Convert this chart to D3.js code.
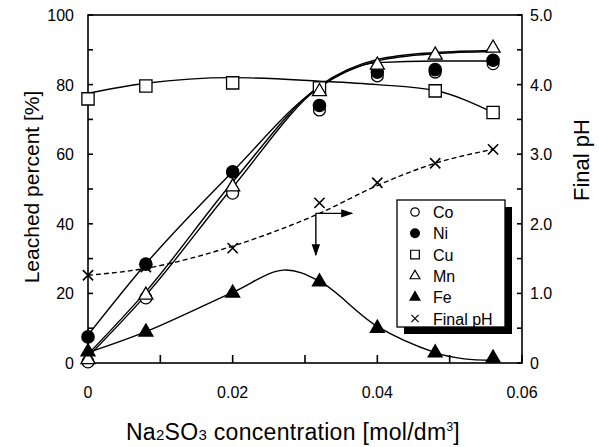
<!DOCTYPE html>
<html><head><meta charset="utf-8">
<script src="https://cdn.jsdelivr.net/npm/d3@7"></script>
<style>body{margin:0;background:#fff}svg{font-family:"Liberation Sans",Arial,sans-serif}</style>
</head><body>
<svg id="c" width="599" height="447"></svg>
<script>
// ---- data ----
const conc = [0, 0.008, 0.02, 0.032, 0.04, 0.048, 0.056];
const coVals = [0.3, 18.7, 48.8, 72.7, 82.5, 83.6, 86];
const niVals = [7.5, 28.4, 54.9, 74, 83.6, 84.3, 87];
const cuVals = [75.9, 79.6, 80.5, 79, null, 78.2, 72];
const mnVals = [1.0, 19.5, 50.6, 78, 85.6, 88.5, 90.5];
const feVals = [3.2, 8.9, 20.1, 23.3, 10, 2.9, 1.4];
const phVals = [1.26, 1.38, 1.65, 2.30, 2.59, 2.87, 3.07];
// fitted curves as drawn in the figure
const coFit = [1.8, 19.5, 50.5, 79.3, 86.8, 88.9, 89.5];
const niFit = [8, 28.5, 55, 79.3, 86.3, 86.8, 86.8];
const mnFit = [2.5, 20.5, 52, 79.6, 87.2, 89.2, 89.8];
const cuFit = [77.5, 80.4, 82, 81, 80, 78.3, 72];
const phFit = [1.26, 1.36, 1.68, 2.15, 2.55, 2.87, 3.07];
const feFitX = [0, 0.008, 0.02, 0.027, 0.032, 0.04, 0.048, 0.052, 0.056];
const feFit = [3, 9, 20.3, 26.7, 23.5, 10.5, 3, 1.2, 0.8];
const xTicks = [0, 0.02, 0.04, 0.06];
const xTickLabels = ["0", "0.02", "0.04", "0.06"];
const yLTicks = [0, 20, 40, 60, 80, 100];
const yRTicks = [0, 1, 2, 3, 4, 5];
const yRTickLabels = ["0", "1.0", "2.0", "3.0", "4.0", "5.0"];
const legendItems = ["Co", "Ni", "Cu", "Mn", "Fe", "Final pH"];
const arrowAt = {x: 0.0315, ph: 2.15, xEnd: 0.0365, yEnd: 31};

// ---- layout ----
const L = 88, R = 522, T = 15, B = 363;
const svg = d3.select("#c");
const x = d3.scaleLinear().domain([0, 0.06]).range([L, R]);
const yL = d3.scaleLinear().domain([0, 100]).range([B, T]);
const yR = d3.scaleLinear().domain([0, 5]).range([B, T]);

// frame
const ax = svg.append("g").attr("stroke", "#000").attr("stroke-width", 1.6).attr("fill", "none");
ax.append("rect").attr("x", L).attr("y", T).attr("width", R - L).attr("height", B - T);
// ticks
d3.range(0, 0.0601, 0.01).forEach(v => ax.append("line").attr("x1", x(v)).attr("x2", x(v)).attr("y1", B).attr("y2", B - 8));
d3.range(0, 101, 10).forEach(v => ax.append("line").attr("x1", L).attr("x2", L + 5).attr("y1", yL(v)).attr("y2", yL(v)));
d3.range(0, 5.01, 0.5).forEach(v => ax.append("line").attr("x1", R).attr("x2", R - 5).attr("y1", yR(v)).attr("y2", yR(v)));

const tf = 16;
svg.append("g").selectAll("text").data(xTicks).join("text")
  .attr("x", d => x(d)).attr("y", 398).attr("text-anchor", "middle").attr("font-size", tf).text((d, i) => xTickLabels[i]);
svg.append("g").selectAll("text").data(yLTicks).join("text")
  .attr("x", 74).attr("y", d => yL(d) + 6).attr("text-anchor", "end").attr("font-size", tf).text(d => d);
svg.append("g").selectAll("text").data(yRTicks).join("text")
  .attr("x", 530).attr("y", d => yR(d) + 6).attr("text-anchor", "start").attr("font-size", tf).text((d, i) => yRTickLabels[i]);

// axis titles
svg.append("text").attr("transform", "translate(39,187) rotate(-90)").attr("text-anchor", "middle")
  .attr("font-size", 21).text("Leached percent [%]");
svg.append("text").attr("transform", "translate(589,160) rotate(-90)").attr("text-anchor", "middle")
  .attr("font-size", 22).text("Final  pH");
const xt = svg.append("text").attr("x", 293).attr("y", 440).attr("text-anchor", "middle").attr("font-size", 23).attr("letter-spacing", 0.3);
xt.append("tspan").text("Na");
xt.append("tspan").attr("font-size", 15).text("2");
xt.append("tspan").text("SO");
xt.append("tspan").attr("font-size", 15).text("3");
xt.append("tspan").text(" concentration [mol/dm");
xt.append("tspan").attr("font-size", 12).attr("dy", -9).text("3");
xt.append("tspan").attr("dy", 9).text("]");

// curves
const lineL = (xs, ys) => d3.line().x((d, i) => x(xs[i])).y(d => yL(d)).curve(d3.curveMonotoneX)(ys);
const lg = svg.append("g").attr("fill", "none").attr("stroke", "#000").attr("stroke-width", 1.4);
lg.append("path").attr("d", lineL(conc, cuFit));
lg.append("path").attr("d", lineL(conc, coFit));
lg.append("path").attr("d", lineL(conc, niFit));
lg.append("path").attr("d", lineL(conc, mnFit));
lg.append("path").attr("d", d3.line().x((d, i) => x(feFitX[i])).y(d => yL(d)).curve(d3.curveCatmullRom)(feFit));
lg.append("path").attr("stroke-dasharray", "5,3")
  .attr("d", d3.line().x((d, i) => x(conc[i])).y(d => yR(d)).curve(d3.curveMonotoneX)(phFit));

// arrows
svg.append("defs").append("marker").attr("id", "ah").attr("viewBox", "0 0 10 10").attr("refX", 9).attr("refY", 5)
  .attr("markerWidth", 12).attr("markerHeight", 12).attr("markerUnits", "userSpaceOnUse").attr("orient", "auto")
  .append("path").attr("d", "M0,1.5L10,5L0,8.5Z").attr("fill", "#000");
const ag = svg.append("g").attr("stroke", "#000").attr("stroke-width", 1.4);
ag.append("line").attr("x1", x(arrowAt.x)).attr("y1", yR(arrowAt.ph)).attr("x2", x(arrowAt.x)).attr("y2", yL(arrowAt.yEnd)).attr("marker-end", "url(#ah)");
ag.append("line").attr("x1", x(arrowAt.x)).attr("y1", yR(arrowAt.ph)).attr("x2", x(arrowAt.xEnd)).attr("y2", yR(arrowAt.ph)).attr("marker-end", "url(#ah)");

// markers
const sym = {
  Co: {t: d3.symbolCircle, s: 110, fill: "#fff"},
  Ni: {t: d3.symbolCircle, s: 120, fill: "#000"},
  Cu: {t: d3.symbolSquare, s: 150, fill: "#fff"},
  Mn: {t: d3.symbolTriangle, s: 85, fill: "#fff"},
  Fe: {t: d3.symbolTriangle, s: 85, fill: "#000"},
  pH: {t: d3.symbolX, s: 70, fill: "none"}
};
function drawPts(key, vals, scale, size) {
  const s = sym[key];
  svg.append("g").selectAll("path").data(conc.map((c, i) => [c, vals[i]]).filter(d => d[1] != null)).join("path")
    .attr("transform", d => `translate(${x(d[0])},${scale(d[1])})`)
    .attr("d", d3.symbol(s.t, size || s.s)())
    .attr("fill", s.fill).attr("stroke", "#000").attr("stroke-width", key === "pH" ? 1.6 : 1.3);
}
drawPts("pH", phVals, yR);
drawPts("Cu", cuVals, yL);
drawPts("Co", coVals, yL);
drawPts("Ni", niVals, yL);
drawPts("Mn", mnVals, yL);
drawPts("Fe", feVals, yL);

// legend
const lx = 397, ly = 200, lw = 108, lh = 127;
svg.append("rect").attr("x", lx + 7).attr("y", ly + 7).attr("width", lw).attr("height", lh).attr("fill", "#000");
svg.append("rect").attr("x", lx).attr("y", ly).attr("width", lw).attr("height", lh).attr("fill", "#fff").attr("stroke", "#000").attr("stroke-width", 1.3);
const keys = ["Co", "Ni", "Cu", "Mn", "Fe", "pH"];
legendItems.forEach((name, i) => {
  const yy = ly + 12 + i * 21.3;
  const s = sym[keys[i]];
  svg.append("path").attr("transform", `translate(415,${yy})`).attr("d", d3.symbol(s.t, s.s * 0.5)())
    .attr("fill", s.fill).attr("stroke", "#000").attr("stroke-width", 1.2);
  svg.append("text").attr("x", 433).attr("y", yy + 6).attr("font-size", 16).text(name);
});
</script>
</body></html>
